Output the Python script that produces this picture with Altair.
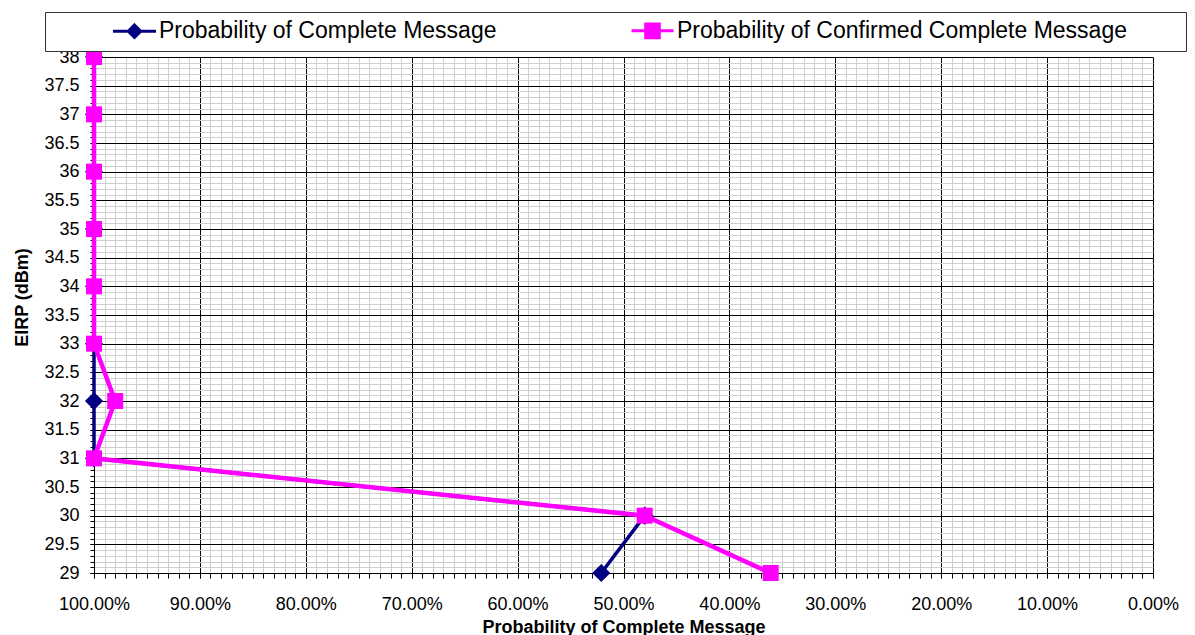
import altair as alt
import pandas as pd

FONT = "Liberation Sans"

eirp = [29, 30, 31, 32, 33, 34, 35, 36, 37, 38]
p_complete = [0.521, 0.480, 1.0, 1.0, 1.0, 1.0, 1.0, 1.0, 1.0, 1.0]
p_confirmed = [0.361, 0.480, 1.0, 0.980, 1.0, 1.0, 1.0, 1.0, 1.0, 1.0]
series_names = ["Probability of Complete Message",
                "Probability of Confirmed Complete Message"]
series_colors = ["#000080", "#FF00FF"]

x_major = [i / 10 for i in range(11)]
x_minor = [i / 100 for i in range(101)]
y_major = [29 + i * 0.5 for i in range(19)]
y_minor = [round(29 + i * 0.1, 1) for i in range(91)]

rows = []
for e, a, b in zip(eirp, p_complete, p_confirmed):
    rows.append({"eirp": e, "prob": a, "series": series_names[0]})
    rows.append({"eirp": e, "prob": b, "series": series_names[1]})
df = pd.DataFrame(rows)

xscale = alt.Scale(domain=[0, 1], reverse=True, nice=False, zero=False)
yscale = alt.Scale(domain=[29, 38], nice=False, zero=False)
cscale = alt.Scale(domain=series_names, range=series_colors)

minor_x = alt.Axis(values=x_minor, orient="bottom", grid=True, gridColor="#cfcfcf",
                   gridWidth=1, labels=False, domain=False, ticks=True,
                   tickColor="black", tickSize=5, title=None)
major_x = alt.Axis(values=x_major, orient="bottom", format=".2%", grid=True,
                   gridColor="black", gridWidth=1, domain=True, domainColor="black",
                   ticks=True, tickColor="black", tickSize=5, labelFont=FONT,
                   labelFontSize=18, labelColor="black", labelPadding=17,
                   labelFlush=False, labelOverlap=False,
                   title="Probability of Complete Message", titleFont=FONT,
                   titleFontSize=18, titleFontWeight="bold", titleColor="black",
                   titleY=59, titleBaseline="alphabetic")
minor_y = alt.Axis(values=y_minor, orient="left", grid=True, gridColor="#cfcfcf",
                   gridWidth=1, labels=False, domain=False, ticks=True,
                   tickColor="black", tickSize=4, title=None)
major_y = alt.Axis(values=y_major, orient="left", format="~g", grid=True,
                   gridColor="black", gridWidth=1, domain=True, domainColor="black",
                   ticks=True, tickColor="black", tickSize=4, labelFont=FONT,
                   labelFontSize=18, labelColor="black", labelPadding=11,
                   labelFlush=False, labelOverlap=False,
                   title="EIRP (dBm)", titleFont=FONT, titleFontSize=18,
                   titleFontWeight="bold", titleColor="black", titleX=-67,
                   titleY=240, titleBaseline="alphabetic", titleAngle=270)

base = alt.Chart(df)

grid_minor = base.mark_point(opacity=0).encode(
    x=alt.X("prob:Q", scale=xscale, axis=minor_x),
    y=alt.Y("eirp:Q", scale=yscale, axis=minor_y),
)
grid_major = base.mark_point(opacity=0).encode(
    x=alt.X("prob:Q", scale=xscale, axis=major_x),
    y=alt.Y("eirp:Q", scale=yscale, axis=major_y),
)

path_a = "M-2.15,0H2.15M0,-0.62L0.62,0L0,0.62L-0.62,0Z"
path_b = "M-2.1,0H2.1M-0.68,-0.68H0.68V0.68H-0.68Z"
n0 = series_names[0]
sym_expr = f"datum.value == '{n0}' ? '{path_a}' : '{path_b}'"
col_expr = f"datum.value == '{n0}' ? '{series_colors[0]}' : '{series_colors[1]}'"
legend = alt.Legend(
    orient="none", legendX=-49, legendY=-45, direction="horizontal",
    title=" ", titleOrient="right", titlePadding=52, titleFontSize=1,
    symbolSize=400, symbolStrokeWidth=3, symbolOffset=71, labelOffset=13,
    symbolType=alt.ExprRef(expr=sym_expr),
    symbolFillColor=alt.ExprRef(expr=col_expr),
    symbolStrokeColor=alt.ExprRef(expr=col_expr),
    symbolOpacity=1,
    columnPadding=73, padding=7, labelFont=FONT, labelFontSize=23,
    labelColor="black", labelLimit=0, strokeColor="#333333", fillColor="white",
)

layers = [grid_minor, grid_major]
shapes = ["diamond", "square"]
sizes = [330, 256]
widths = [3.5, 4.5]
for i, name in enumerate(series_names):
    sub = base.transform_filter(alt.datum.series == name)
    ln = sub.mark_line(strokeWidth=widths[i]).encode(
        x=alt.X("prob:Q", scale=xscale, axis=None),
        y=alt.Y("eirp:Q", scale=yscale, axis=None),
        order=alt.Order("eirp:Q"),
        color=alt.Color("series:N", scale=cscale, legend=None),
    )
    pt = sub.mark_point(shape=shapes[i], size=sizes[i], filled=True, opacity=1).encode(
        x=alt.X("prob:Q", scale=xscale, axis=None),
        y=alt.Y("eirp:Q", scale=yscale, axis=None),
        color=alt.Color("series:N", scale=cscale,
                        legend=legend if i == 0 else None),
    )
    layers += [ln, pt]

chart = alt.layer(*layers).resolve_axis(
    x="independent", y="independent"
).resolve_legend(color="independent").properties(
    width=1059, height=516,
    autosize=alt.AutoSizeParams(type="none"),
    padding={"left": 86, "top": 49, "right": 34, "bottom": 62},
).configure_view(stroke="#808080", strokeWidth=1)

chart.save("out.html", embed_options={"renderer": "svg", "actions": False})
